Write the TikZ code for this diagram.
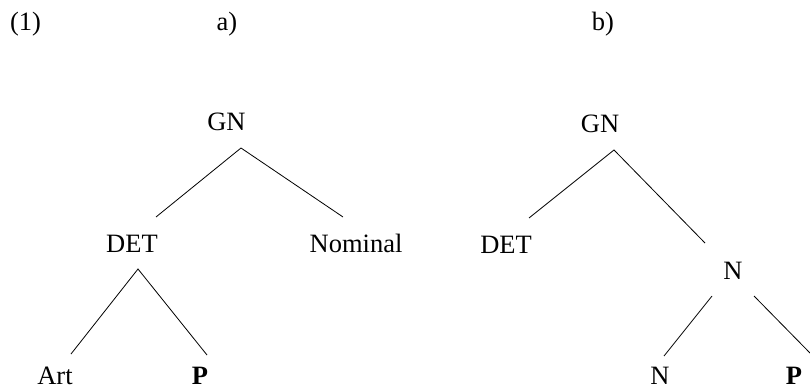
\documentclass[tikz,border=0pt]{standalone}
\usepackage{fontspec}
\setmainfont{Liberation Serif}
\begin{document}
\begin{tikzpicture}[x=1pt,y=-1pt,
  lbl/.style={anchor=base,inner sep=0pt,font=\fontsize{26.5}{30}\selectfont},
  branch/.style={line width=0.8pt,black}]
\useasboundingbox (0,0) rectangle (810,390);
% headings
\node[lbl] (ex) at (25.5,31) {(1)};
\node[lbl] (ha) at (227,31) {a)};
\node[lbl] (hb) at (603,31) {b)};
% tree a
\node[lbl] (gnA) at (226.5,131) {GN};
\node[lbl] (detA) at (132,252) {DET};
\node[lbl] (nomA) at (356,252) {Nominal};
\node[lbl] (artA) at (55,384) {Art};
\node[lbl] (pA) at (200,384) {\bfseries P};
\coordinate (gnA-b) at (241,148);
\coordinate (detA-t) at (156,217);
\coordinate (nomA-t) at (343,217);
\coordinate (detA-b) at (138,269);
\coordinate (artA-t) at (71,354);
\coordinate (pA-t) at (207,355);
\draw[branch] (detA-t) -- (gnA-b) -- (nomA-t);
\draw[branch] (artA-t) -- (detA-b) -- (pA-t);
% tree b
\node[lbl] (gnB) at (600,133) {GN};
\node[lbl] (detB) at (506,253) {DET};
\node[lbl] (nB) at (733,279) {N};
\node[lbl] (nnB) at (660,384) {N};
\node[lbl] (pB) at (794,384) {\bfseries P};
\coordinate (gnB-b) at (614,150);
\coordinate (detB-t) at (529,218);
\coordinate (nB-t) at (705,243);
\coordinate (nB-bl) at (712,296);
\coordinate (nB-br) at (754,296);
\coordinate (nnB-t) at (664,356);
\coordinate (pB-t) at (810,353);
\draw[branch] (detB-t) -- (gnB-b) -- (nB-t);
\draw[branch] (nB-bl) -- (nnB-t);
\draw[branch] (nB-br) -- (pB-t);
\end{tikzpicture}
\end{document}
